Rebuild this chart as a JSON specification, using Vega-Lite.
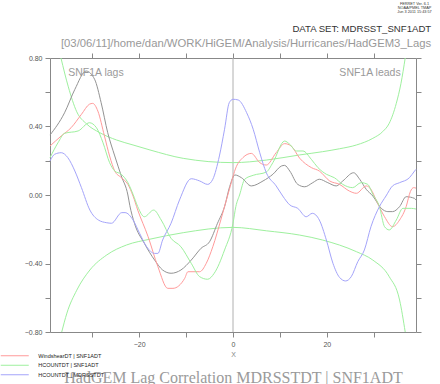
{
  "$schema": "https://vega.github.io/schema/vega-lite/v6.json",
  "width": 366,
  "height": 274,
  "autosize": {"type": "none"},
  "padding": {"left": 50, "top": 58, "right": 24, "bottom": 52},
  "background": "white",
  "config": {
    "view": {"stroke": null},
    "font": "Liberation Sans",
    "axis": {"grid": false, "domainColor": "#888888", "tickColor": "#888888", "labelColor": "#555555", "labelFont": "Liberation Sans", "labelFontSize": 7, "tickSize": 5, "titleFontWeight": "normal"}
  },
  "title": {
    "text": "DATA SET: MDRSST_SNF1ADT",
    "subtitle": "[03/06/11]/home/dan/WORK/HiGEM/Analysis/Hurricanes/HadGEM3_Lags",
    "anchor": "end",
    "font": "Liberation Sans",
    "fontSize": 9.6,
    "fontWeight": "normal",
    "color": "#333333",
    "subtitleFont": "Liberation Sans",
    "subtitleFontSize": 11.3,
    "subtitleColor": "#999999",
    "subtitlePadding": 4,
    "offset": -48
  },
  "datasets": {
    "zero": [{"lag": 0}],
    "notes": [
      {"lag": -29.2, "r": 0.712, "note": "SNF1A lags"},
      {"lag": 29.2, "r": 0.712, "note": "SNF1A leads"}
    ],
    "sig": [
      {"side": "upper", "lag": -36.66, "r": 0.8},
      {"side": "upper", "lag": -35.1, "r": 0.632},
      {"side": "upper", "lag": -33.3, "r": 0.486},
      {"side": "upper", "lag": -31.2, "r": 0.415},
      {"side": "upper", "lag": -28.4, "r": 0.364},
      {"side": "upper", "lag": -24.8, "r": 0.321},
      {"side": "upper", "lag": -21.3, "r": 0.292},
      {"side": "upper", "lag": -17.7, "r": 0.263},
      {"side": "upper", "lag": -10.6, "r": 0.214},
      {"side": "upper", "lag": 0, "r": 0.189},
      {"side": "upper", "lag": 7.1, "r": 0.204},
      {"side": "upper", "lag": 14.2, "r": 0.234},
      {"side": "upper", "lag": 19.1, "r": 0.253},
      {"side": "upper", "lag": 22.7, "r": 0.27},
      {"side": "upper", "lag": 26.3, "r": 0.292},
      {"side": "upper", "lag": 29.8, "r": 0.331},
      {"side": "upper", "lag": 31.9, "r": 0.37},
      {"side": "upper", "lag": 33.3, "r": 0.419},
      {"side": "upper", "lag": 34.8, "r": 0.535},
      {"side": "upper", "lag": 35.8, "r": 0.652},
      {"side": "upper", "lag": 36.7, "r": 0.8},
      {"side": "lower", "lag": -36.5, "r": -0.8},
      {"side": "lower", "lag": -35.4, "r": -0.69},
      {"side": "lower", "lag": -33.3, "r": -0.556},
      {"side": "lower", "lag": -30.5, "r": -0.438},
      {"side": "lower", "lag": -26.9, "r": -0.35},
      {"side": "lower", "lag": -22.7, "r": -0.292},
      {"side": "lower", "lag": -17.7, "r": -0.258},
      {"side": "lower", "lag": -10.6, "r": -0.22},
      {"side": "lower", "lag": 0, "r": -0.189},
      {"side": "lower", "lag": 7.1, "r": -0.209},
      {"side": "lower", "lag": 14.2, "r": -0.234},
      {"side": "lower", "lag": 19.1, "r": -0.263},
      {"side": "lower", "lag": 26.3, "r": -0.331},
      {"side": "lower", "lag": 29.8, "r": -0.38},
      {"side": "lower", "lag": 33.3, "r": -0.477},
      {"side": "lower", "lag": 35.5, "r": -0.613},
      {"side": "lower", "lag": 36.7, "r": -0.8}
    ],
    "other": [
      {"lag": -39, "r": 0.35}, {"lag": -35.9, "r": 0.48}, {"lag": -33.7, "r": 0.617}, {"lag": -31.3, "r": 0.724},
      {"lag": -29.5, "r": 0.676}, {"lag": -28.1, "r": 0.539}, {"lag": -26.7, "r": 0.364}, {"lag": -25.2, "r": 0.228},
      {"lag": -23.8, "r": 0.111}, {"lag": -22.4, "r": 0.0}, {"lag": -22, "r": -0.06}, {"lag": -21, "r": -0.165},
      {"lag": -18.9, "r": -0.282}, {"lag": -16.7, "r": -0.38}, {"lag": -15, "r": -0.438}, {"lag": -13.2, "r": -0.457},
      {"lag": -11.1, "r": -0.438}, {"lag": -8.9, "r": -0.38}, {"lag": -6.8, "r": -0.311}, {"lag": -5, "r": -0.273},
      {"lag": -3.3, "r": -0.165}, {"lag": -1.8, "r": -0.068}, {"lag": -0.7, "r": 0.05}, {"lag": 0.4, "r": 0.117},
      {"lag": 1.8, "r": 0.101}, {"lag": 3.9, "r": 0.053}, {"lag": 6.4, "r": 0.082}, {"lag": 8.5, "r": 0.121},
      {"lag": 10.3, "r": 0.169}, {"lag": 11, "r": 0.173}, {"lag": 12.1, "r": 0.14}, {"lag": 13.8, "r": 0.062},
      {"lag": 15.3, "r": 0.048}, {"lag": 17, "r": 0.072}, {"lag": 18.4, "r": 0.092}, {"lag": 20.2, "r": 0.072},
      {"lag": 22, "r": 0.053}, {"lag": 23.4, "r": 0.082}, {"lag": 25.7, "r": 0.13}, {"lag": 27, "r": 0.092},
      {"lag": 28.4, "r": 0.033}, {"lag": 29.8, "r": -0.006}, {"lag": 31.6, "r": -0.078}, {"lag": 33, "r": -0.097},
      {"lag": 34, "r": -0.097}, {"lag": 35.5, "r": -0.068}, {"lag": 36.9, "r": -0.01}, {"lag": 38.7, "r": -0.02},
      {"lag": 39, "r": -0.03}
    ],
    "series": [
      {"s": "WindshearDT | SNF1ADT", "lag": -39, "r": 0.286},
      {"s": "WindshearDT | SNF1ADT", "lag": -36.6, "r": 0.345},
      {"s": "WindshearDT | SNF1ADT", "lag": -34.5, "r": 0.393},
      {"s": "WindshearDT | SNF1ADT", "lag": -32.3, "r": 0.471},
      {"s": "WindshearDT | SNF1ADT", "lag": -30.6, "r": 0.53},
      {"s": "WindshearDT | SNF1ADT", "lag": -29.9, "r": 0.535},
      {"s": "WindshearDT | SNF1ADT", "lag": -28.8, "r": 0.49},
      {"s": "WindshearDT | SNF1ADT", "lag": -27.4, "r": 0.345},
      {"s": "WindshearDT | SNF1ADT", "lag": -26.3, "r": 0.228},
      {"s": "WindshearDT | SNF1ADT", "lag": -25.2, "r": 0.14},
      {"s": "WindshearDT | SNF1ADT", "lag": -23.8, "r": 0.101},
      {"s": "WindshearDT | SNF1ADT", "lag": -22.4, "r": 0.062},
      {"s": "WindshearDT | SNF1ADT", "lag": -21.3, "r": -0.006},
      {"s": "WindshearDT | SNF1ADT", "lag": -20.3, "r": -0.088},
      {"s": "WindshearDT | SNF1ADT", "lag": -18.1, "r": -0.243},
      {"s": "WindshearDT | SNF1ADT", "lag": -16, "r": -0.419},
      {"s": "WindshearDT | SNF1ADT", "lag": -13.9, "r": -0.545},
      {"s": "WindshearDT | SNF1ADT", "lag": -12.8, "r": -0.545},
      {"s": "WindshearDT | SNF1ADT", "lag": -10.3, "r": -0.487},
      {"s": "WindshearDT | SNF1ADT", "lag": -9.6, "r": -0.448},
      {"s": "WindshearDT | SNF1ADT", "lag": -7.1, "r": -0.448},
      {"s": "WindshearDT | SNF1ADT", "lag": -5.7, "r": -0.399},
      {"s": "WindshearDT | SNF1ADT", "lag": -4.3, "r": -0.302},
      {"s": "WindshearDT | SNF1ADT", "lag": -2.6, "r": -0.146},
      {"s": "WindshearDT | SNF1ADT", "lag": -0.8, "r": 0.03},
      {"s": "WindshearDT | SNF1ADT", "lag": 0.7, "r": 0.165},
      {"s": "WindshearDT | SNF1ADT", "lag": 2.1, "r": 0.218},
      {"s": "WindshearDT | SNF1ADT", "lag": 3.9, "r": 0.243},
      {"s": "WindshearDT | SNF1ADT", "lag": 5.7, "r": 0.189},
      {"s": "WindshearDT | SNF1ADT", "lag": 7.1, "r": 0.175},
      {"s": "WindshearDT | SNF1ADT", "lag": 9.2, "r": 0.247},
      {"s": "WindshearDT | SNF1ADT", "lag": 11, "r": 0.3},
      {"s": "WindshearDT | SNF1ADT", "lag": 12.4, "r": 0.286},
      {"s": "WindshearDT | SNF1ADT", "lag": 14.2, "r": 0.215},
      {"s": "WindshearDT | SNF1ADT", "lag": 16.7, "r": 0.16},
      {"s": "WindshearDT | SNF1ADT", "lag": 18.4, "r": 0.14},
      {"s": "WindshearDT | SNF1ADT", "lag": 20.6, "r": 0.082},
      {"s": "WindshearDT | SNF1ADT", "lag": 22.7, "r": 0.062},
      {"s": "WindshearDT | SNF1ADT", "lag": 24.8, "r": 0.023},
      {"s": "WindshearDT | SNF1ADT", "lag": 26.3, "r": 0.01},
      {"s": "WindshearDT | SNF1ADT", "lag": 28.4, "r": 0.053},
      {"s": "WindshearDT | SNF1ADT", "lag": 29.4, "r": 0.033},
      {"s": "WindshearDT | SNF1ADT", "lag": 30.5, "r": -0.029},
      {"s": "WindshearDT | SNF1ADT", "lag": 32.3, "r": -0.127},
      {"s": "WindshearDT | SNF1ADT", "lag": 34, "r": -0.185},
      {"s": "WindshearDT | SNF1ADT", "lag": 35.5, "r": -0.146},
      {"s": "WindshearDT | SNF1ADT", "lag": 36.9, "r": -0.068},
      {"s": "WindshearDT | SNF1ADT", "lag": 37.8, "r": 0.02},
      {"s": "WindshearDT | SNF1ADT", "lag": 38.5, "r": 0.043},
      {"s": "WindshearDT | SNF1ADT", "lag": 39, "r": 0.04},
      {"s": "HCOUNTDT | SNF1ADT", "lag": -39, "r": 0.218},
      {"s": "HCOUNTDT | SNF1ADT", "lag": -37.3, "r": 0.305},
      {"s": "HCOUNTDT | SNF1ADT", "lag": -35.9, "r": 0.36},
      {"s": "HCOUNTDT | SNF1ADT", "lag": -33, "r": 0.374},
      {"s": "HCOUNTDT | SNF1ADT", "lag": -30.6, "r": 0.422},
      {"s": "HCOUNTDT | SNF1ADT", "lag": -29.1, "r": 0.393},
      {"s": "HCOUNTDT | SNF1ADT", "lag": -27.7, "r": 0.305},
      {"s": "HCOUNTDT | SNF1ADT", "lag": -26.3, "r": 0.189},
      {"s": "HCOUNTDT | SNF1ADT", "lag": -25.2, "r": 0.14},
      {"s": "HCOUNTDT | SNF1ADT", "lag": -23.8, "r": 0.121},
      {"s": "HCOUNTDT | SNF1ADT", "lag": -22.4, "r": 0.072},
      {"s": "HCOUNTDT | SNF1ADT", "lag": -21.3, "r": 0.004},
      {"s": "HCOUNTDT | SNF1ADT", "lag": -20.3, "r": -0.068},
      {"s": "HCOUNTDT | SNF1ADT", "lag": -18.9, "r": -0.127},
      {"s": "HCOUNTDT | SNF1ADT", "lag": -16.9, "r": -0.088},
      {"s": "HCOUNTDT | SNF1ADT", "lag": -15.3, "r": -0.146},
      {"s": "HCOUNTDT | SNF1ADT", "lag": -13.2, "r": -0.253},
      {"s": "HCOUNTDT | SNF1ADT", "lag": -11.1, "r": -0.302},
      {"s": "HCOUNTDT | SNF1ADT", "lag": -8.9, "r": -0.399},
      {"s": "HCOUNTDT | SNF1ADT", "lag": -7.1, "r": -0.477},
      {"s": "HCOUNTDT | SNF1ADT", "lag": -5.4, "r": -0.492},
      {"s": "HCOUNTDT | SNF1ADT", "lag": -4, "r": -0.457},
      {"s": "HCOUNTDT | SNF1ADT", "lag": -1.8, "r": -0.321},
      {"s": "HCOUNTDT | SNF1ADT", "lag": 0, "r": -0.165},
      {"s": "HCOUNTDT | SNF1ADT", "lag": 0.6, "r": -0.068},
      {"s": "HCOUNTDT | SNF1ADT", "lag": 1.4, "r": 0.0},
      {"s": "HCOUNTDT | SNF1ADT", "lag": 2.5, "r": 0.092},
      {"s": "HCOUNTDT | SNF1ADT", "lag": 4.3, "r": 0.115},
      {"s": "HCOUNTDT | SNF1ADT", "lag": 7.1, "r": 0.134},
      {"s": "HCOUNTDT | SNF1ADT", "lag": 8.5, "r": 0.189},
      {"s": "HCOUNTDT | SNF1ADT", "lag": 11, "r": 0.315},
      {"s": "HCOUNTDT | SNF1ADT", "lag": 12.1, "r": 0.296},
      {"s": "HCOUNTDT | SNF1ADT", "lag": 13.5, "r": 0.257},
      {"s": "HCOUNTDT | SNF1ADT", "lag": 14.9, "r": 0.257},
      {"s": "HCOUNTDT | SNF1ADT", "lag": 16.7, "r": 0.208},
      {"s": "HCOUNTDT | SNF1ADT", "lag": 18.1, "r": 0.16},
      {"s": "HCOUNTDT | SNF1ADT", "lag": 19.9, "r": 0.121},
      {"s": "HCOUNTDT | SNF1ADT", "lag": 21.6, "r": 0.101},
      {"s": "HCOUNTDT | SNF1ADT", "lag": 23.4, "r": 0.062},
      {"s": "HCOUNTDT | SNF1ADT", "lag": 25.5, "r": 0.043},
      {"s": "HCOUNTDT | SNF1ADT", "lag": 27.3, "r": 0.072},
      {"s": "HCOUNTDT | SNF1ADT", "lag": 28.7, "r": 0.062},
      {"s": "HCOUNTDT | SNF1ADT", "lag": 29.8, "r": 0.004},
      {"s": "HCOUNTDT | SNF1ADT", "lag": 31.2, "r": -0.068},
      {"s": "HCOUNTDT | SNF1ADT", "lag": 32.3, "r": -0.185},
      {"s": "HCOUNTDT | SNF1ADT", "lag": 33.3, "r": -0.204},
      {"s": "HCOUNTDT | SNF1ADT", "lag": 34.8, "r": -0.146},
      {"s": "HCOUNTDT | SNF1ADT", "lag": 36.2, "r": -0.078},
      {"s": "HCOUNTDT | SNF1ADT", "lag": 38, "r": -0.078},
      {"s": "HCOUNTDT | SNF1ADT", "lag": 39, "r": -0.082},
      {"s": "HCOUNTDT | MDRSSTDT", "lag": -39, "r": 0.199},
      {"s": "HCOUNTDT | MDRSSTDT", "lag": -38, "r": 0.238},
      {"s": "HCOUNTDT | MDRSSTDT", "lag": -36.6, "r": 0.247},
      {"s": "HCOUNTDT | MDRSSTDT", "lag": -35.2, "r": 0.218},
      {"s": "HCOUNTDT | MDRSSTDT", "lag": -33.7, "r": 0.14},
      {"s": "HCOUNTDT | MDRSSTDT", "lag": -32.3, "r": 0.043},
      {"s": "HCOUNTDT | MDRSSTDT", "lag": -30.5, "r": -0.088},
      {"s": "HCOUNTDT | MDRSSTDT", "lag": -28.7, "r": -0.146},
      {"s": "HCOUNTDT | MDRSSTDT", "lag": -26.9, "r": -0.162},
      {"s": "HCOUNTDT | MDRSSTDT", "lag": -25.9, "r": -0.165},
      {"s": "HCOUNTDT | MDRSSTDT", "lag": -23.7, "r": -0.103},
      {"s": "HCOUNTDT | MDRSSTDT", "lag": -23, "r": -0.103},
      {"s": "HCOUNTDT | MDRSSTDT", "lag": -21.3, "r": -0.146},
      {"s": "HCOUNTDT | MDRSSTDT", "lag": -19.9, "r": -0.224},
      {"s": "HCOUNTDT | MDRSSTDT", "lag": -18.4, "r": -0.302},
      {"s": "HCOUNTDT | MDRSSTDT", "lag": -16.7, "r": -0.341},
      {"s": "HCOUNTDT | MDRSSTDT", "lag": -16, "r": -0.341},
      {"s": "HCOUNTDT | MDRSSTDT", "lag": -15, "r": -0.263},
      {"s": "HCOUNTDT | MDRSSTDT", "lag": -13.2, "r": -0.165},
      {"s": "HCOUNTDT | MDRSSTDT", "lag": -11.4, "r": -0.029},
      {"s": "HCOUNTDT | MDRSSTDT", "lag": -8.9, "r": 0.095},
      {"s": "HCOUNTDT | MDRSSTDT", "lag": -7.1, "r": 0.082},
      {"s": "HCOUNTDT | MDRSSTDT", "lag": -5.4, "r": 0.062},
      {"s": "HCOUNTDT | MDRSSTDT", "lag": -4.3, "r": 0.092},
      {"s": "HCOUNTDT | MDRSSTDT", "lag": -2.9, "r": 0.228},
      {"s": "HCOUNTDT | MDRSSTDT", "lag": -1.8, "r": 0.384},
      {"s": "HCOUNTDT | MDRSSTDT", "lag": -0.8, "r": 0.539},
      {"s": "HCOUNTDT | MDRSSTDT", "lag": 0, "r": 0.559},
      {"s": "HCOUNTDT | MDRSSTDT", "lag": 1.1, "r": 0.555},
      {"s": "HCOUNTDT | MDRSSTDT", "lag": 2.9, "r": 0.481},
      {"s": "HCOUNTDT | MDRSSTDT", "lag": 4.3, "r": 0.384},
      {"s": "HCOUNTDT | MDRSSTDT", "lag": 5.7, "r": 0.247},
      {"s": "HCOUNTDT | MDRSSTDT", "lag": 7.1, "r": 0.13},
      {"s": "HCOUNTDT | MDRSSTDT", "lag": 9.2, "r": 0.053},
      {"s": "HCOUNTDT | MDRSSTDT", "lag": 10.6, "r": -0.006},
      {"s": "HCOUNTDT | MDRSSTDT", "lag": 12.1, "r": -0.058},
      {"s": "HCOUNTDT | MDRSSTDT", "lag": 13.8, "r": -0.078},
      {"s": "HCOUNTDT | MDRSSTDT", "lag": 15.6, "r": -0.127},
      {"s": "HCOUNTDT | MDRSSTDT", "lag": 16.9, "r": -0.107},
      {"s": "HCOUNTDT | MDRSSTDT", "lag": 18.4, "r": -0.146},
      {"s": "HCOUNTDT | MDRSSTDT", "lag": 19.9, "r": -0.263},
      {"s": "HCOUNTDT | MDRSSTDT", "lag": 21.3, "r": -0.399},
      {"s": "HCOUNTDT | MDRSSTDT", "lag": 22.7, "r": -0.481},
      {"s": "HCOUNTDT | MDRSSTDT", "lag": 24, "r": -0.502},
      {"s": "HCOUNTDT | MDRSSTDT", "lag": 25.2, "r": -0.477},
      {"s": "HCOUNTDT | MDRSSTDT", "lag": 26.6, "r": -0.389},
      {"s": "HCOUNTDT | MDRSSTDT", "lag": 28, "r": -0.321},
      {"s": "HCOUNTDT | MDRSSTDT", "lag": 29.4, "r": -0.185},
      {"s": "HCOUNTDT | MDRSSTDT", "lag": 31.2, "r": -0.068},
      {"s": "HCOUNTDT | MDRSSTDT", "lag": 32.6, "r": -0.006},
      {"s": "HCOUNTDT | MDRSSTDT", "lag": 34, "r": 0.053},
      {"s": "HCOUNTDT | MDRSSTDT", "lag": 35.5, "r": 0.072},
      {"s": "HCOUNTDT | MDRSSTDT", "lag": 37.6, "r": 0.101},
      {"s": "HCOUNTDT | MDRSSTDT", "lag": 38.7, "r": 0.14},
      {"s": "HCOUNTDT | MDRSSTDT", "lag": 39, "r": 0.15}
    ]
  },
  "layer": [
    {
      "data": {"name": "zero"},
      "mark": {"type": "rule", "color": "#b0b0b0", "strokeWidth": 1},
      "encoding": {
        "x": {
          "field": "lag", "type": "quantitative",
          "scale": {"domain": [-39, 39], "nice": false, "zero": false},
          "axis": {
            "orient": "top", "values": [-30, -20, -10, 0, 10, 20, 30], "labels": false, "ticks": true, "domain": true,
            "title": ["FERRET Ver. 6.1", "NOAA/PMEL TMAP", "Jun 3 2011 15:43:57"],
            "titleFontSize": 3.8, "titleColor": "#333333", "titleX": 364, "titleY": -57,
            "titleAlign": "center", "titleBaseline": "top", "titleLineHeight": 4.2, "titleAnchor": null
          }
        }
      }
    },
    {
      "data": {"name": "sig"},
      "mark": {"type": "line", "color": "#9ef09e", "strokeWidth": 1, "interpolate": "monotone"},
      "encoding": {
        "x": {"field": "lag", "type": "quantitative", "axis": null},
        "y": {
          "field": "r", "type": "quantitative",
          "scale": {"domain": [-0.8, 0.8], "nice": false, "zero": false},
          "axis": {"orient": "right", "values": [-0.8, -0.6, -0.4, -0.2, 0, 0.2, 0.4, 0.6, 0.8], "labels": false, "ticks": true, "domain": true, "title": null}
        },
        "detail": {"field": "side", "type": "nominal"}
      }
    },
    {
      "data": {"name": "other"},
      "mark": {"type": "line", "color": "#939393", "strokeWidth": 1, "interpolate": "monotone"},
      "encoding": {
        "x": {
          "field": "lag", "type": "quantitative",
          "axis": {
            "orient": "bottom", "values": [-30, -20, -10, 0, 10, 20, 30], "format": "d",
            "labelExpr": "datum.value % 20 === 0 ? datum.label : ''",
            "labelPadding": 3, "title": "X", "titleFontSize": 7, "titleColor": "#888888", "titlePadding": 3, "titleFont": "Liberation Sans"
          }
        },
        "y": {
          "field": "r", "type": "quantitative",
          "axis": {
            "orient": "left", "values": [-0.8, -0.6, -0.4, -0.2, 0, 0.2, 0.4, 0.6, 0.8],
            "labelExpr": "abs(round(datum.value * 10)) % 4 === 0 ? format(datum.value, '.2f') : ''",
            "labelPadding": 3, "title": null
          }
        }
      }
    },
    {
      "data": {"name": "series"},
      "mark": {"type": "line", "strokeWidth": 1, "interpolate": "monotone"},
      "encoding": {
        "x": {
          "field": "lag", "type": "quantitative",
          "axis": {
            "orient": "bottom", "domain": false, "ticks": false, "labels": false,
            "title": "HadGEM Lag Correlation MDRSSTDT | SNF1ADT",
            "titleFont": "Liberation Serif", "titleFontSize": 16, "titleColor": "#9a9a9a", "titlePadding": 37
          }
        },
        "y": {"field": "r", "type": "quantitative", "axis": null},
        "color": {
          "field": "s", "type": "nominal",
          "scale": {"domain": ["WindshearDT | SNF1ADT", "HCOUNTDT | SNF1ADT", "HCOUNTDT | MDRSSTDT"], "range": ["#ff9a9a", "#9ef09e", "#a4a4fa"]},
          "legend": {
            "orient": "none", "legendX": -38, "legendY": 295, "title": null, "padding": 0,
            "symbolType": "M-7,0H7", "symbolSize": 16, "symbolStrokeWidth": 1,
            "labelFontSize": 5.5, "labelColor": "#222222", "labelFont": "Liberation Sans", "labelOffset": 20.7, "rowPadding": 2.5
          }
        }
      }
    },
    {
      "data": {"name": "notes"},
      "mark": {"type": "text", "align": "center", "baseline": "middle", "fontSize": 10.5, "color": "#9a9a9a", "font": "Liberation Sans"},
      "encoding": {
        "x": {"field": "lag", "type": "quantitative", "axis": null},
        "y": {"field": "r", "type": "quantitative", "axis": null},
        "text": {"field": "note", "type": "nominal"}
      }
    }
  ],
  "resolve": {"axis": {"x": "independent", "y": "independent"}}
}
